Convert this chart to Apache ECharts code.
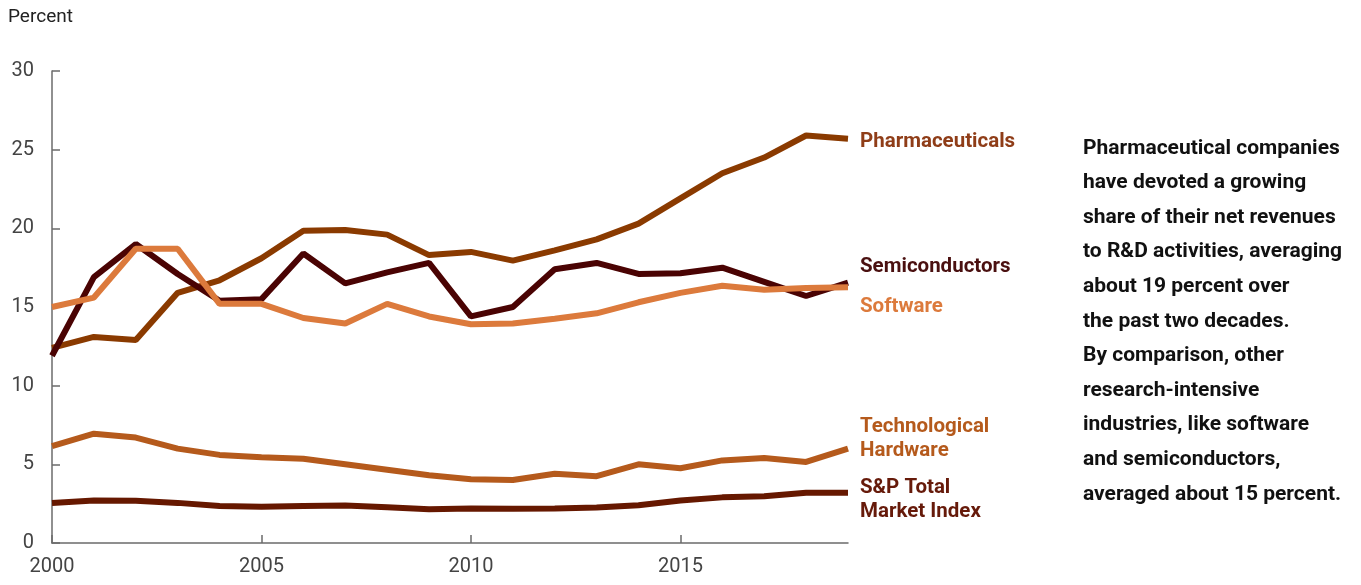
<!DOCTYPE html>
<html>
<head>
<meta charset="utf-8">
<script src="https://cdn.jsdelivr.net/npm/echarts@6/dist/echarts.min.js"></script>
<style>
  html, body { margin: 0; padding: 0; background: #fff; }
  #chart { width: 1361px; height: 585px; }
</style>
</head>
<body>
<div id="chart"></div>
<script>
// R&D spending as a share of net revenues, by industry (percent)
const years = [2000, 2001, 2002, 2003, 2004, 2005, 2006, 2007, 2008, 2009,
               2010, 2011, 2012, 2013, 2014, 2015, 2016, 2017, 2018, 2019];

const pharmaceuticals = [12.4, 13.1, 12.9, 15.9, 16.7, 18.1, 19.85, 19.9, 19.6, 18.3,
                         18.5, 17.95, 18.6, 19.3, 20.3, 21.9, 23.5, 24.5, 25.9, 25.7];
const semiconductors  = [11.9, 16.9, 19.0, 17.1, 15.4, 15.5, 18.4, 16.5, 17.2, 17.8,
                         14.4, 15.0, 17.4, 17.8, 17.1, 17.15, 17.5, 16.6, 15.7, 16.55];
const software        = [15.0, 15.6, 18.7, 18.7, 15.2, 15.2, 14.3, 13.95, 15.2, 14.4,
                         13.9, 13.95, 14.25, 14.6, 15.3, 15.9, 16.35, 16.1, 16.2, 16.25];
const techHardware    = [6.15, 6.95, 6.7, 6.0, 5.6, 5.45, 5.35, 5.0, 4.65, 4.3,
                         4.05, 4.0, 4.4, 4.25, 5.0, 4.75, 5.25, 5.4, 5.15, 6.0];
const spTotalMarket   = [2.55, 2.7, 2.68, 2.55, 2.35, 2.3, 2.35, 2.38, 2.27, 2.15,
                         2.2, 2.18, 2.2, 2.25, 2.4, 2.7, 2.9, 2.97, 3.2, 3.2];

const yTicks = { min: 0, max: 30, interval: 5 };

const colors = {
  pharma: '#8a3a00',
  semi:   '#4a0303',
  soft:   '#dc7a3c',
  tech:   '#b55a1c',
  sp:     '#661800'
};

const noteLines = [
  'Pharmaceutical companies',
  'have devoted a growing',
  'share of their net revenues',
  'to R&D activities, averaging',
  'about 19 percent over',
  'the past two decades.',
  'By comparison, other',
  'research-intensive',
  'industries, like software',
  'and semiconductors,',
  'averaged about 15 percent.'
];

const FONT = 'Roboto, "Noto Sans", sans-serif';

function lineSeries(name, data, color) {
  return {
    name: name,
    type: 'line',
    data: data,
    showSymbol: false,
    symbol: 'none',
    lineStyle: { width: 6, color: color },
    emphasis: { disabled: true },
    animation: false
  };
}

function seriesLabel(lines, x, y, color) {
  return {
    type: 'text',
    left: x,
    top: y,
    style: {
      text: lines.join('\n'),
      fill: color,
      font: 'bold 20.5px ' + FONT,
      lineHeight: 24
    }
  };
}

const chart = echarts.init(document.getElementById('chart'), null, { renderer: 'canvas' });

chart.setOption({
  backgroundColor: '#fff',
  animation: false,
  grid: { left: 52, right: 513, top: 71, bottom: 42, containLabel: false },
  xAxis: {
    type: 'category',
    data: years,
    boundaryGap: false,
    axisLine: { lineStyle: { color: '#6b6b6b', width: 1.5 } },
    axisTick: { show: true, inside: true, length: 8, interval: 4, alignWithLabel: true,
                lineStyle: { color: '#6b6b6b', width: 1.5 } },
    axisLabel: { interval: 4, color: '#444', fontSize: 20, fontFamily: FONT, margin: 14 },
    splitLine: { show: false }
  },
  yAxis: {
    type: 'value',
    min: yTicks.min,
    max: yTicks.max,
    interval: yTicks.interval,
    axisLine: { show: true, lineStyle: { color: '#6b6b6b', width: 1.5 } },
    axisTick: { show: true, inside: true, length: 8, lineStyle: { color: '#6b6b6b', width: 1.5 } },
    axisLabel: { color: '#444', fontSize: 20, fontFamily: FONT, margin: 18 },
    splitLine: { show: false }
  },
  series: [
    lineSeries('Pharmaceuticals', pharmaceuticals, colors.pharma),
    lineSeries('Semiconductors', semiconductors, colors.semi),
    lineSeries('Software', software, colors.soft),
    lineSeries('Technological Hardware', techHardware, colors.tech),
    lineSeries('S&P Total Market Index', spTotalMarket, colors.sp)
  ],
  graphic: [
    {
      type: 'text', left: 8, top: 8,
      style: { text: 'Percent', fill: '#222', font: '19px ' + FONT }
    },
    seriesLabel(['Pharmaceuticals'], 860, 130, '#8f3d18'),
    seriesLabel(['Semiconductors'], 860, 255, '#4a1010'),
    seriesLabel(['Software'], 860, 295, '#dc7a3c'),
    seriesLabel(['Technological', 'Hardware'], 860, 415, '#b55a1c'),
    seriesLabel(['S&P Total', 'Market Index'], 860, 476, '#661a0a'),
    {
      type: 'text', left: 1083, top: 131,
      style: {
        text: noteLines.join('\n'),
        fill: '#111',
        font: 'bold 21px ' + FONT,
        lineHeight: 34.6
      }
    }
  ]
});
</script>
</body>
</html>
